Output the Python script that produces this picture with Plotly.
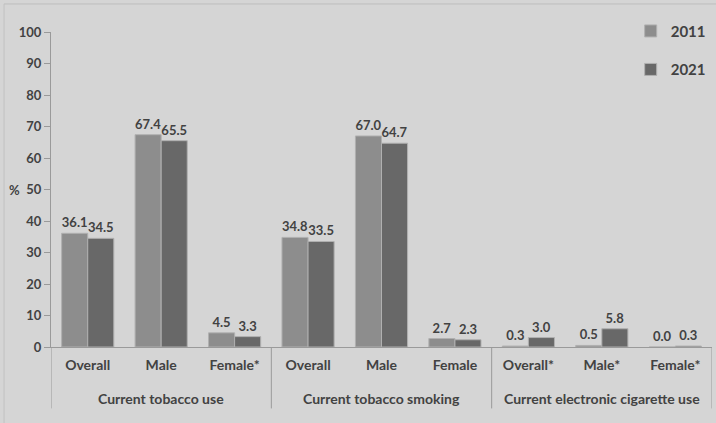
import plotly.graph_objects as go

# Survey indicators and their sub-groups
indicators = ["Current tobacco use", "Current tobacco smoking", "Current electronic cigarette use"]
subgroups = ["Overall", "Male", "Female*", "Overall", "Male", "Female", "Overall*", "Male*", "Female*"]

# Prevalence (%) by survey year
y2011 = [36.1, 67.4, 4.5, 34.8, 67.0, 2.7, 0.3, 0.5, 0.0]
y2021 = [34.5, 65.5, 3.3, 33.5, 64.7, 2.3, 3.0, 5.8, 0.3]

y_ticks = list(range(0, 101, 10))

FONT = "Lato"
TEXT = "#424242"
BG = "#d5d5d5"
AXIS = "#9a9a9a"

xpos = list(range(len(subgroups)))

fig = go.Figure()
for name, vals, color in [("2011", y2011, "#8d8d8d"), ("2021", y2021, "#686868")]:
    fig.add_trace(go.Bar(
        name=name, legendgroup=name,
        x=xpos, y=vals,
        marker=dict(color=color, line=dict(color="#b0b0b0", width=1)),
        text=[f"{v:.1f}" for v in vals],
        textposition="outside",
        cliponaxis=False,
        textfont=dict(family=FONT, size=13, color=TEXT, weight="bold"),
    ))

fig.update_layout(
    width=716, height=423,
    margin=dict(l=51, r=4, t=32, b=76),
    paper_bgcolor=BG, plot_bgcolor=BG,
    barmode="group", bargap=0.29, bargroupgap=0.0,
    font=dict(family=FONT, size=14, color=TEXT),
    showlegend=True,
    legend=dict(x=0.998, y=1.055, xanchor="right", yanchor="top",
                bgcolor="rgba(0,0,0,0)", tracegroupgap=16,
                itemwidth=30,
                font=dict(family=FONT, size=15, color=TEXT, weight="bold")),
)

fig.update_xaxes(
    range=[-0.5, len(subgroups) - 0.5],
    tickvals=xpos, ticktext=subgroups,
    showline=True, linecolor=AXIS, linewidth=1,
    ticks="", showgrid=False, zeroline=False,
    ticklabelstandoff=5,
    tickfont=dict(family=FONT, size=14, color=TEXT, weight="bold"),
)
fig.update_yaxes(
    range=[0, 100], tickvals=y_ticks, ticktext=[str(t) for t in y_ticks],
    showline=True, linecolor=AXIS, linewidth=1,
    ticks="outside", ticklen=6, tickcolor=AXIS,
    showgrid=False, zeroline=False,
    tickfont=dict(family=FONT, size=13, color=TEXT, weight="bold"),
)

# indicator labels and group dividers below the axis
for i, label in enumerate(indicators):
    fig.add_annotation(text=label, xref="x", yref="paper", x=3 * i + 1, y=-0.162,
                       yanchor="middle", showarrow=False,
                       font=dict(family=FONT, size=14, color=TEXT, weight="bold"))
for b in range(0, len(subgroups) + 1, 3):
    fig.add_shape(type="line", xref="x", yref="paper", x0=b - 0.5, x1=b - 0.5,
                  y0=0, y1=-0.195, line=dict(color=AXIS, width=1))

# faint chart-area border along the top and left
fig.add_shape(type="line", xref="paper", yref="paper", x0=-0.071, x1=1.01,
              y0=1.089, y1=1.089, line=dict(color="#bdbdbd", width=1))
fig.add_shape(type="line", xref="paper", yref="paper", x0=-0.071, x1=-0.071,
              y0=1.089, y1=-0.25, line=dict(color="#c2c2c2", width=1))

fig.add_annotation(text="%", xref="paper", yref="y", x=-0.044, y=50,
                   xanchor="right", showarrow=False,
                   font=dict(family=FONT, size=13, color=TEXT, weight="bold"))

fig.write_html("out.html")
